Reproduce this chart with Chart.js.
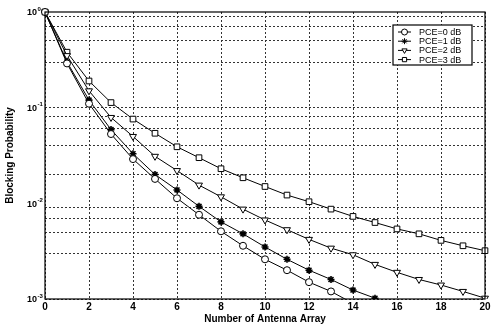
<!DOCTYPE html>
<html>
<head>
<meta charset="utf-8">
<script src="https://cdn.jsdelivr.net/npm/chart.js@4/dist/chart.umd.min.js"></script>
<style>
    html, body { margin: 0; padding: 0; background: #fff; }
    #wrap { width: 494px; height: 326px; }
</style>
</head>
<body>
<div id="wrap"><canvas id="chart" width="494" height="326"></canvas></div>
<script>
// Blocking probability vs number of antenna array, per PCE level
const antennas = [0, 1, 2, 3, 4, 5, 6, 7, 8, 9, 10, 11, 12, 13, 14, 15, 16, 17, 18, 19, 20];
const pce0 = [1, 0.29, 0.11, 0.053, 0.029, 0.018, 0.0113, 0.0076, 0.0051, 0.0036, 0.0026, 0.0020, 0.0015, 0.0012, 0.0009];
const pce1 = [1, 0.30, 0.12, 0.059, 0.033, 0.020, 0.0138, 0.0093, 0.0064, 0.0048, 0.0035, 0.0026, 0.0020, 0.0016, 0.00124, 0.00102];
const pce2 = [1, 0.35, 0.15, 0.079, 0.050, 0.031, 0.022, 0.0155, 0.0117, 0.0087, 0.0067, 0.0053, 0.0042, 0.0034, 0.0029, 0.0023, 0.0019, 0.0016, 0.0014, 0.0012, 0.00102];
const pce3 = [1, 0.38, 0.19, 0.113, 0.076, 0.054, 0.039, 0.030, 0.023, 0.0185, 0.015, 0.0122, 0.0104, 0.0087, 0.0073, 0.0063, 0.0054, 0.0048, 0.0041, 0.0036, 0.0032];
const seriesLabels = ['PCE=0 dB', 'PCE=1 dB', 'PCE=2 dB', 'PCE=3 dB'];
const yDecades = [0, -1, -2, -3];

const markers = [
    { pointStyle: 'circle', rotation: 0, radius: 3.5, width: 1 },
    { pointStyle: 'star', rotation: 0, radius: 3.5, width: 1.6 },
    { pointStyle: 'triangle', rotation: 180, radius: 4, width: 1 },
    { pointStyle: 'rect', rotation: 0, radius: 4, width: 1 },
];

const toPoints = (vals) => vals.map((v, i) => ({ x: antennas[i], y: v }));

const datasets = [pce0, pce1, pce2, pce3].map((vals, i) => ({
    label: seriesLabels[i],
    data: toPoints(vals),
    borderColor: '#000',
    backgroundColor: '#fff',
    borderWidth: 1,
    pointStyle: markers[i].pointStyle,
    pointRotation: markers[i].rotation,
    pointRadius: markers[i].radius,
    pointBorderColor: '#000',
    pointBackgroundColor: '#fff',
    pointBorderWidth: markers[i].width,
    tension: 0,
    clip: { left: 6, right: 6, top: 6, bottom: 0 },
}));

const tickFont = { family: '"Liberation Sans", Arial, sans-serif', size: 10, weight: 'bold' };

// Box around the plot area, the y decade labels and the legend panel
const framePlugin = {
    id: 'frame',
    afterDraw(chart) {
        const { ctx, chartArea: a } = chart;
        const yScale = chart.scales.y;
        ctx.save();
        ctx.strokeStyle = '#000';
        ctx.lineWidth = 1.2;
        ctx.strokeRect(a.left, a.top, a.right - a.left, a.bottom - a.top);

        // 10^k labels
        ctx.fillStyle = '#000';
        ctx.textBaseline = 'middle';
        yDecades.forEach(k => {
            const y = yScale.getPixelForValue(Math.pow(10, k));
            ctx.font = 'bold 9px "Liberation Sans", Arial, sans-serif';
            ctx.textAlign = 'left';
            ctx.fillText('10', 27, y + 1);
            ctx.font = 'bold 6px "Liberation Sans", Arial, sans-serif';
            ctx.fillText(k === 0 ? '0' : '-' + Math.abs(k), 37.5, y - 3);
        });

        // legend
        const lx = 393, ly = 25, lw = 79, lh = 40;
        ctx.fillStyle = '#fff';
        ctx.fillRect(lx, ly, lw, lh);
        ctx.strokeStyle = '#000';
        ctx.lineWidth = 1.2;
        ctx.strokeRect(lx, ly, lw, lh);
        chart.data.datasets.forEach((ds, i) => {
            const y = ly + 7 + i * 9.2;
            ctx.strokeStyle = '#000';
            ctx.lineWidth = 1;
            ctx.beginPath();
            ctx.moveTo(lx + 5, y);
            ctx.lineTo(lx + 18, y);
            ctx.stroke();
            ctx.fillStyle = '#fff';
            Chart.helpers.drawPoint(ctx, {
                pointStyle: markers[i].pointStyle,
                rotation: markers[i].rotation,
                radius: 3,
                borderWidth: markers[i].width,
            }, lx + 11.5, y);
            ctx.fillStyle = '#000';
            ctx.font = '9px "Liberation Sans", Arial, sans-serif';
            ctx.textAlign = 'left';
            ctx.textBaseline = 'middle';
            ctx.fillText(ds.label, lx + 26, y + 0.5);
        });
        ctx.restore();
    }
};

new Chart(document.getElementById('chart'), {
    type: 'line',
    data: { datasets: datasets },
    options: {
        responsive: false,
        animation: false,
        devicePixelRatio: 1,
        layout: { padding: { top: 12, right: 9, left: 0, bottom: 0 } },
        plugins: {
            legend: { display: false },
            tooltip: { enabled: false },
        },
        scales: {
            x: {
                type: 'linear',
                min: 0,
                max: 20,
                ticks: {
                    stepSize: 2,
                    color: '#000',
                    padding: 2,
                    maxRotation: 0,
                    font: tickFont,
                },
                grid: {
                    color: '#333',
                    lineWidth: 1,
                    tickLength: 0,
                    drawTicks: false,
                },
                border: { display: false, dash: [2, 2] },
                title: {
                    display: true,
                    text: 'Number of Antenna Array',
                    color: '#000',
                    padding: { top: 0, bottom: 1 },
                    font: { family: '"Liberation Sans", Arial, sans-serif', size: 10, weight: 'bold' },
                },
                afterFit: (s) => { s.height = 27; },
            },
            y: {
                type: 'logarithmic',
                min: 0.001,
                max: 1,
                afterBuildTicks: (s) => {
                    const ticks = [];
                    for (let e = -3; e <= 0; e++) {
                        for (let m = 1; m <= 9; m++) {
                            const v = m * Math.pow(10, e);
                            if (v <= 1.0000001) ticks.push({ value: v });
                        }
                    }
                    s.ticks = ticks;
                },
                ticks: {
                    callback: () => '',
                    font: { size: 9 },
                },
                grid: {
                    color: '#333',
                    lineWidth: 1,
                    drawTicks: false,
                    tickLength: 0,
                },
                border: { display: false, dash: [2, 2] },
                title: {
                    display: true,
                    text: 'Blocking Probability',
                    color: '#000',
                    padding: { top: 4, bottom: 0 },
                    font: { family: '"Liberation Sans", Arial, sans-serif', size: 10, weight: 'bold' },
                },
                afterFit: (s) => { s.width = 45; },
            },
        },
    },
    plugins: [framePlugin],
});
</script>
</body>
</html>
